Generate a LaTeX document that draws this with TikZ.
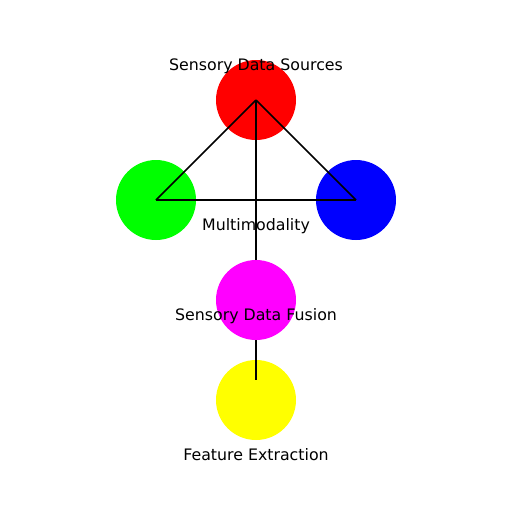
\documentclass[tikz,border=0pt]{standalone}
\usepackage{fontspec}
\setmainfont{DejaVu Sans}
\definecolor{cred}{RGB}{255,0,0}
\definecolor{cgreen}{RGB}{0,255,0}
\definecolor{cblue}{RGB}{0,0,255}
\definecolor{cmag}{RGB}{255,0,255}
\definecolor{cyel}{RGB}{255,255,0}
\begin{document}
\begin{tikzpicture}[x=1pt,y=-1pt,
  dot/.style={circle,minimum size=80pt,inner sep=0pt,draw=none},
  link/.style={draw=black,line width=1.6pt},
  lbl/.style={font=\fontsize{15.8pt}{19pt}\selectfont,anchor=base,inner sep=0pt,text=black}]
\useasboundingbox (0,0) rectangle (512,512);
\node[dot,fill=cred] (src) at (256,100) {};
\node[dot,fill=cgreen] (grn) at (156,200) {};
\node[dot,fill=cblue] (blu) at (356,200) {};
\node[dot,fill=cyel] (feat) at (256,400) {};
\coordinate (vend) at (256,380);
\draw[link] (src.center) -- (grn.center);
\draw[link] (src.center) -- (blu.center);
\draw[link] (grn.center) -- (blu.center);
\draw[link] (src.center) -- (vend);
\node[dot,fill=cmag] (fus) at (256,300) {};
\node[lbl] (t1) at (256,70.5) {Sensory Data Sources};
\node[lbl] (t2) at (256,230.5) {Multimodality};
\node[lbl] (t3) at (256,320.5) {Sensory Data Fusion};
\node[lbl] (t4) at (256,460.5) {Feature Extraction};
\end{tikzpicture}
\end{document}
